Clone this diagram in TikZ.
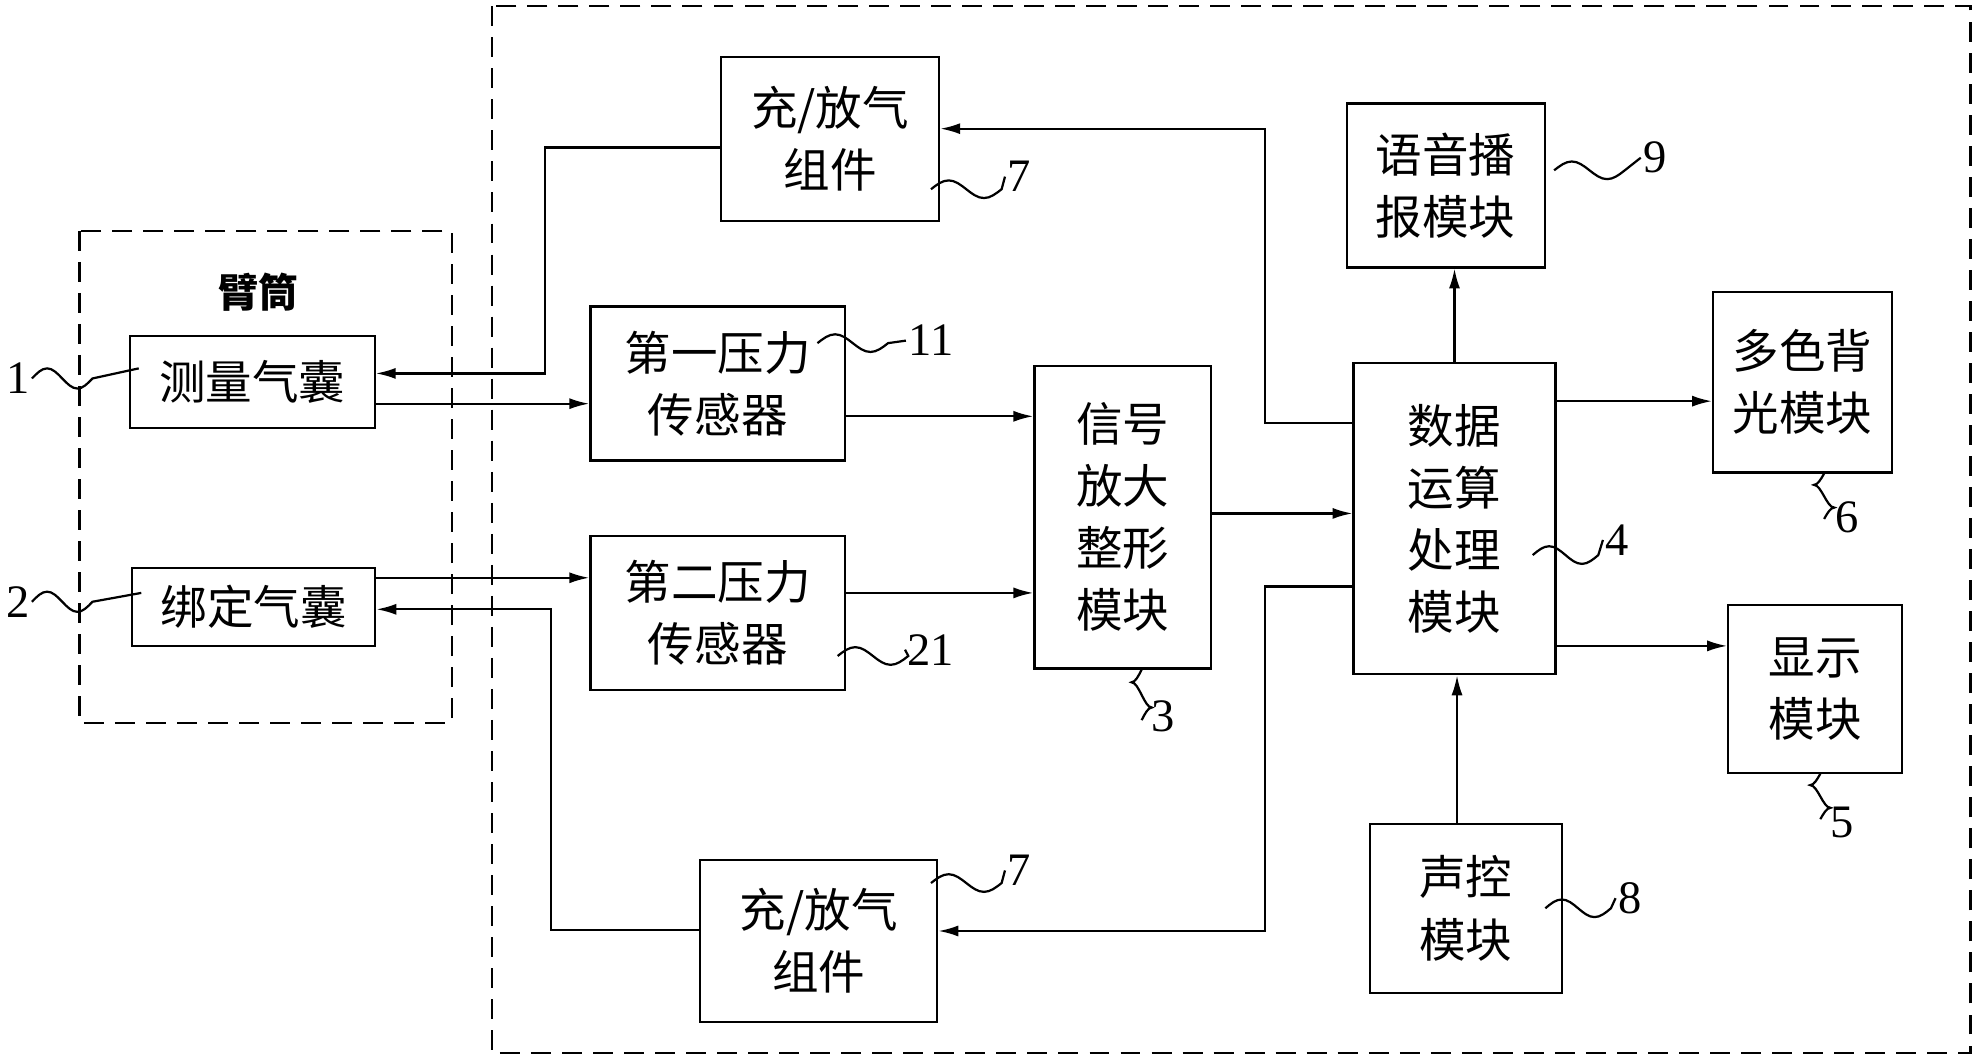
\documentclass[tikz,border=0pt]{standalone}
\usepackage{fontspec}
\setmainfont{Liberation Serif}
\newfontfamily\cjk{Noto Sans CJK SC}
\usetikzlibrary{positioning,arrows.meta}

\begin{document}
\begin{tikzpicture}[x=0.02cm,y=-0.02cm,
    box/.style={
        draw,
        line width=1pt,
        align=center,
        anchor=center,
        font=\cjk\fontsize{21}{28}\selectfont
    },
    conn/.style={line width=1pt,-{Latex[length=9pt,width=5pt]}},
    wave/.style={line width=1pt},
    frame/.style={line width=1pt,dash pattern=on 9pt off 5pt},
    num/.style={font=\fontsize{21}{24}\selectfont,inner sep=1pt}
    ]
    \useasboundingbox (0,0) rectangle (1568,840);

    % dashed frames
    \draw[frame] (390,5) rectangle (1562,835);
    \draw[frame] (63,183) rectangle (358,573);
    \node[font=\cjk\bfseries\fontsize{18}{22}\selectfont] (arm) at (205,232) {臂筒};

    % blocks
    \node[box,minimum width=3.88cm,minimum height=1.46cm] (meas) at (200,303) {测量气囊};
    \node[box,minimum width=3.86cm,minimum height=1.24cm] (bind) at (201,481) {绑定气囊};
    \node[box,minimum width=3.46cm,minimum height=2.6cm] (pumpA) at (658,110) {充/放气\\组件};
    \node[box,minimum width=4.04cm,minimum height=2.44cm] (psA) at (569,304) {第一压力\\传感器};
    \node[box,minimum width=4.04cm,minimum height=2.44cm] (psB) at (569,486) {第二压力\\传感器};
    \node[box,minimum width=2.8cm,minimum height=4.8cm] (amp) at (890,410) {信号\\放大\\整形\\模块};
    \node[box,minimum width=3.2cm,minimum height=4.94cm] (cpu) at (1153,411) {数据\\运算\\处理\\模块};
    \node[box,minimum width=3.14cm,minimum height=2.6cm] (voice) at (1146,147) {语音播\\报模块};
    \node[box,minimum width=2.84cm,minimum height=2.86cm] (light) at (1429,303) {多色背\\光模块};
    \node[box,minimum width=2.76cm,minimum height=2.66cm] (disp) at (1439,546) {显示\\模块};
    \node[box,minimum width=3.04cm,minimum height=2.68cm] (sound) at (1162,720) {声控\\模块};
    \node[box,minimum width=3.76cm,minimum height=2.56cm] (pumpB) at (649,746) {充/放气\\组件};

    % connectors
    \coordinate (cA) at (cpu.west |- 0,335);
    \coordinate (cB) at (cpu.west |- 0,465);
    \draw[conn] (cA) -| (1003,102) -- (pumpA.east |- 0,102);
    \draw[conn] (pumpA.west |- 0,117) -| (432,296) -- (meas.east |- 0,296);
    \draw[conn] (meas.east |- 0,320) -- (psA.west |- 0,320);
    \draw[conn] (psA.east |- 0,330) -- (amp.west |- 0,330);
    \draw[conn] (bind.east |- 0,458) -- (psB.west |- 0,458);
    \draw[conn] (psB.east |- 0,470) -- (amp.west |- 0,470);
    \draw[conn] (amp.east |- 0,407) -- (cpu.west |- 0,407);
    \draw[conn] (cB) -| (1003,738) -- (pumpB.east |- 0,738);
    \draw[conn] (pumpB.west |- 0,737) -| (437,483) -- (bind.east |- 0,483);
    \draw[conn] (cpu.north) -- (voice.south -| cpu.north);
    \draw[conn] (cpu.east |- 0,318) -- (light.west |- 0,318);
    \draw[conn] (cpu.east |- 0,512) -- (disp.west |- 0,512);
    \draw[conn] (sound.north -| 1155,0) -- (cpu.south -| 1155,0);

    % reference numerals
    \node[num] (n1) at (14,300) {1};
    \draw[wave] (n1.east) sin ++(12,-8) cos ++(12,8) sin ++(12,8) cos ++(12,-8) -- (110,292);
    \node[num] (n2) at (14,477) {2};
    \draw[wave] (n2.east) sin ++(12,-8) cos ++(12,8) sin ++(12,8) cos ++(12,-8) -- (112,470);
    \node[num] (n7a) at (808,140) {7};
    \draw[wave] (738,150) sin ++(14,-7) cos ++(14,7) sin ++(14,7) cos ++(14,-7) -- (n7a.west);
    \node[num] (n11) at (738,270) {11};
    \draw[wave] (648,272) sin ++(14,-7) cos ++(14,7) sin ++(14,7) cos ++(14,-7) -- (n11.west);
    \node[num] (n21) at (738,515) {21};
    \draw[wave] (664,520) sin ++(14,-7) cos ++(14,7) sin ++(14,7) cos ++(14,-7) -- (n21.west);
    \node[num] (n9) at (1312,125) {9};
    \draw[wave] (1232,135) sin ++(14,-7) cos ++(14,7) sin ++(14,7) cos ++(14,-7) -- (n9.west);
    \node[num] (n4) at (1282,428) {4};
    \draw[wave] (1215,440) sin ++(13,-7) cos ++(13,7) sin ++(13,7) cos ++(13,-7) -- (n4.west);
    \node[num] (n8) at (1292,712) {8};
    \draw[wave] (1225,720) sin ++(13,-7) cos ++(13,7) sin ++(13,7) cos ++(13,-7) -- (n8.west);
    \node[num] (n7b) at (808,690) {7};
    \draw[wave] (738,700) sin ++(14,-7) cos ++(14,7) sin ++(14,7) cos ++(14,-7) -- (n7b.west);
    \node[num] (n3) at (922,568) {3};
    \draw[wave] (amp.south -| 905,0) sin ++(-8,10) cos ++(8,10) sin ++(8,10) cos ++(-8,10);
    \node[num] (n6) at (1464,410) {6};
    \draw[wave] (light.south -| 1446,0) sin ++(-8,9) cos ++(8,9) sin ++(8,9) cos ++(-8,9);
    \node[num] (n5) at (1460,652) {5};
    \draw[wave] (disp.south -| 1443,0) sin ++(-8,9) cos ++(8,9) sin ++(8,9) cos ++(-8,9);
\end{tikzpicture}
\end{document}
